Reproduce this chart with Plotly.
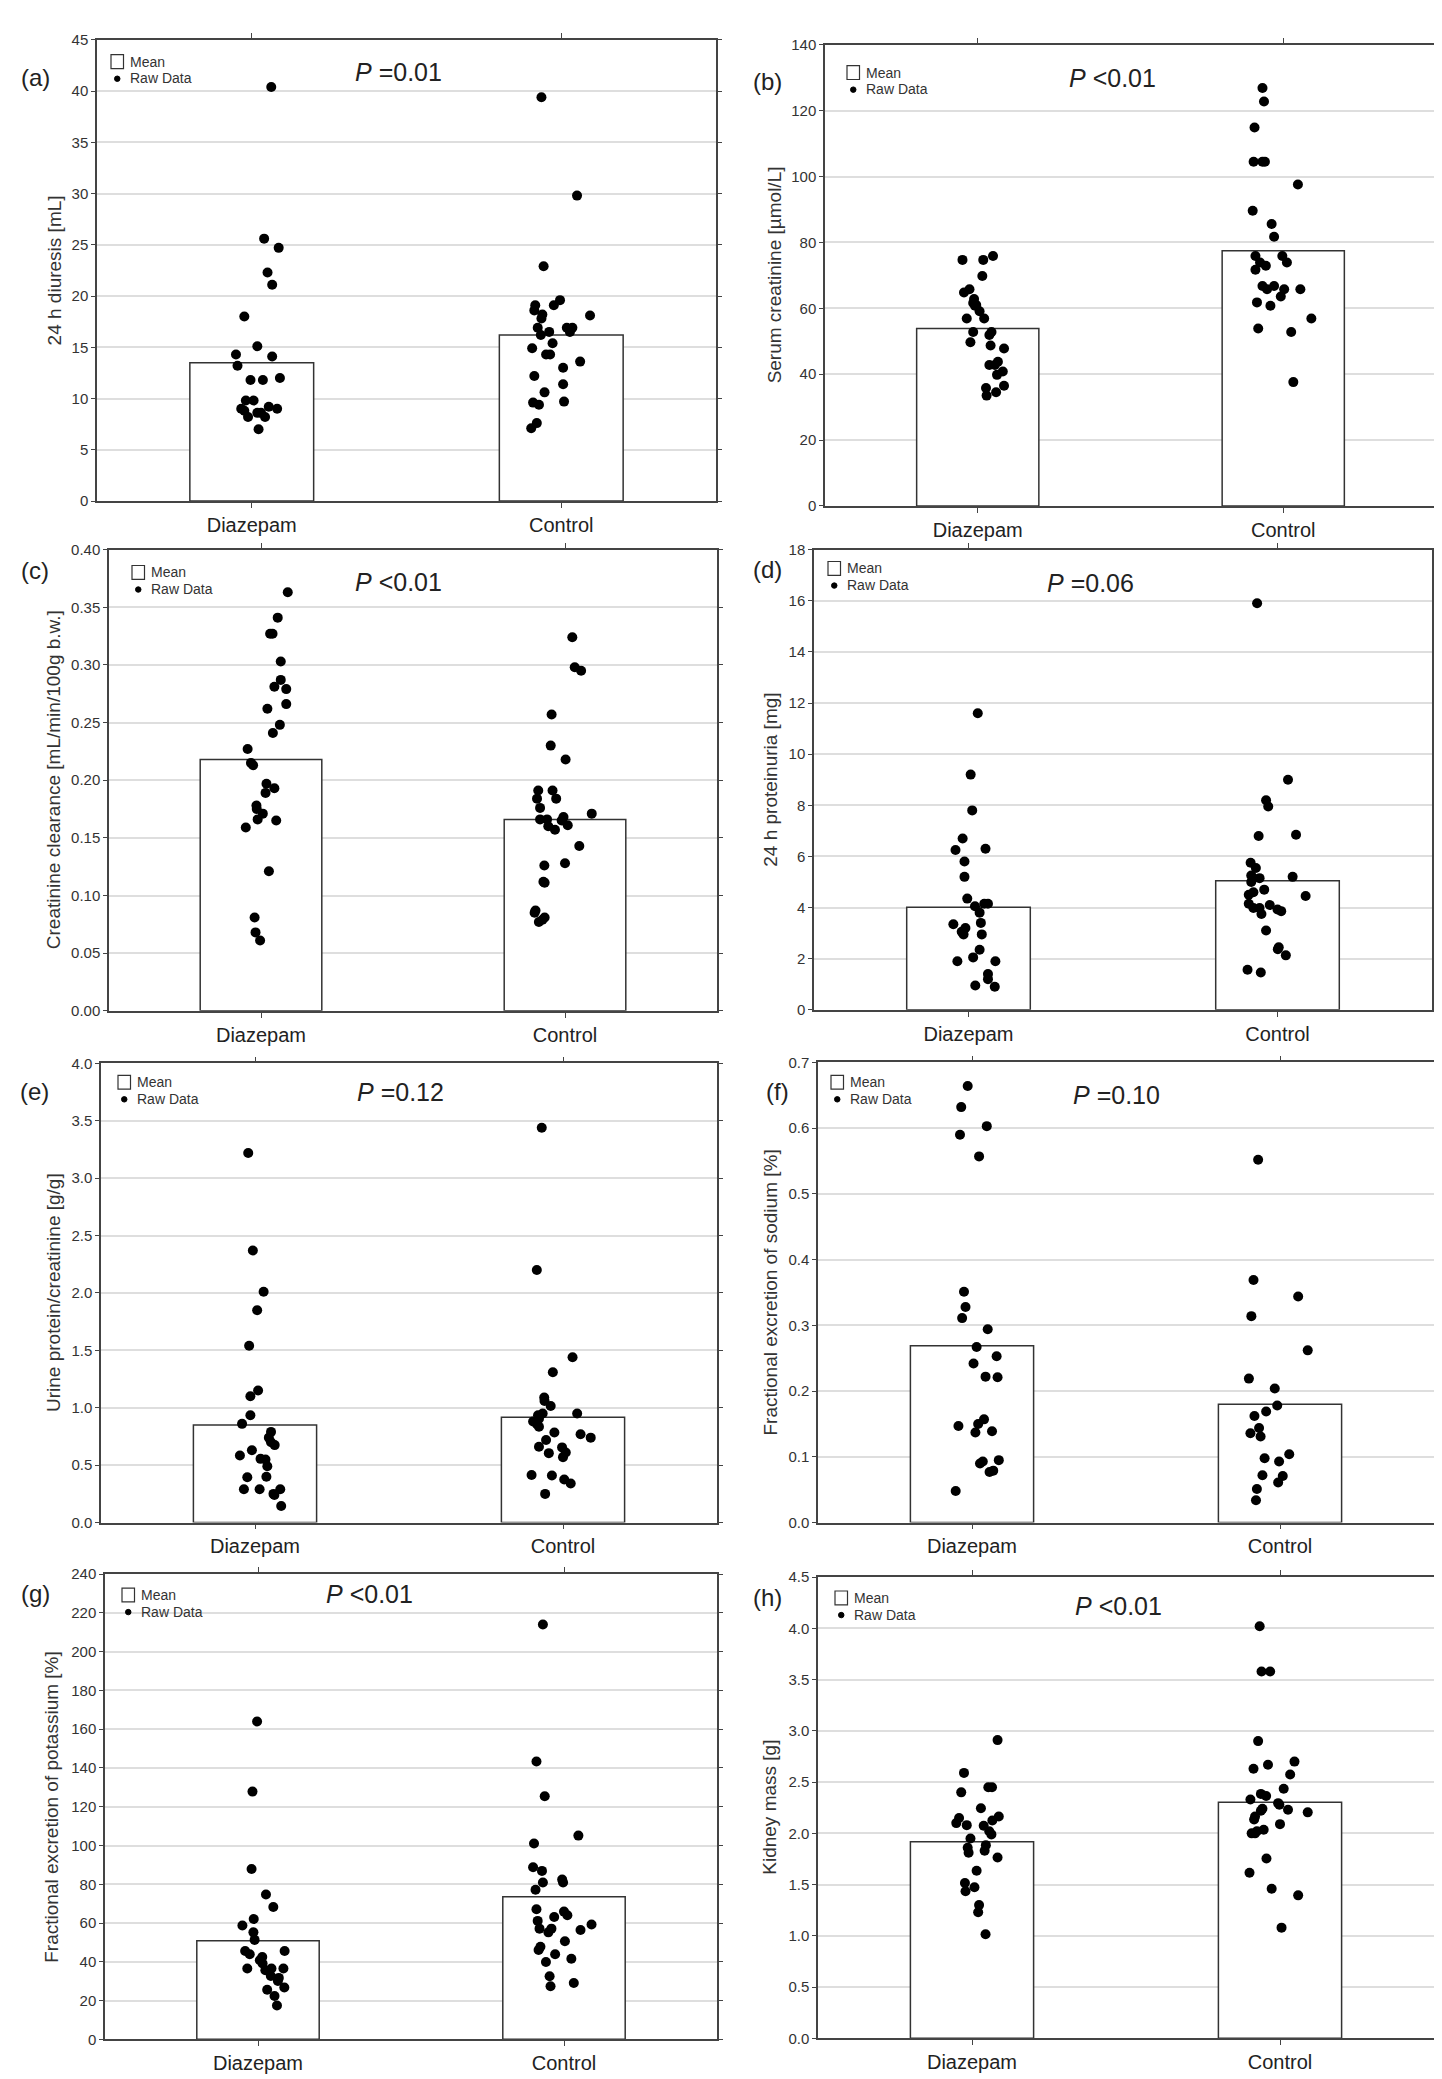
import plotly.graph_objects as go

W, H = 1442, 2079
CATEGORIES = ["Diazepam", "Control"]

# (a) 24 h diuresis
a_means = [13.5, 16.2]
a_diaz = [40.4, 25.6, 24.7, 22.3, 21.1, 18.0, 15.1, 14.3, 14.1, 13.2, 12.0, 11.8, 11.8, 9.8, 9.8,
          9.2, 9.0, 9.0, 8.8, 8.6, 8.6, 8.2, 8.2, 7.0]
a_diaz_jit = [0.063, 0.040, 0.087, 0.051, 0.066, -0.024, 0.018, -0.051, 0.066, -0.046, 0.091, -0.004,
              0.036, -0.019, 0.006, 0.055, -0.034, 0.082, -0.024, 0.018, 0.030, -0.012, 0.043, 0.022]
a_ctrl = [39.4, 29.8, 22.9, 19.6, 19.1, 19.1, 18.6, 18.2, 18.1, 17.8, 16.9, 16.9, 16.9, 16.5, 16.5,
          16.2, 15.4, 14.9, 14.3, 14.3, 13.6, 13.0, 12.2, 11.4, 10.6, 9.7, 9.6, 9.4, 7.6, 7.1]
a_ctrl_jit = [-0.064, 0.051, -0.057, -0.004, -0.084, -0.024, -0.087, -0.061, 0.093, -0.064, -0.076,
              0.018, 0.036, -0.039, 0.028, -0.066, -0.028, -0.094, -0.049, -0.036, 0.061, 0.006,
              -0.087, 0.006, -0.054, 0.009, -0.091, -0.072, -0.079, -0.097]

# (b) serum creatinine
b_means = [53.9, 77.5]
b_diaz = [75.9, 74.7, 74.7, 69.8, 65.8, 64.8, 62.8, 61.6, 61.0, 60.8, 59.1, 56.9, 56.9, 52.8, 52.8,
          51.9, 49.7, 48.7, 47.8, 43.8, 42.8, 42.8, 40.8, 39.8, 36.5, 35.8, 34.5, 33.5]
b_diaz_jit = [0.050, -0.050, 0.018, 0.015, -0.027, -0.045, -0.012, -0.015, -0.005, -0.009, 0.006,
              -0.036, 0.021, -0.015, 0.045, 0.038, -0.024, 0.042, 0.086, 0.066, 0.038, 0.056, 0.082,
              0.063, 0.086, 0.027, 0.060, 0.029]
b_ctrl = [126.9, 122.8, 114.9, 104.5, 104.5, 104.5, 97.6, 89.6, 85.6, 81.7, 75.9, 75.9, 73.9, 73.9,
          72.9, 71.7, 66.8, 66.8, 65.8, 65.8, 65.8, 63.6, 61.8, 60.8, 56.9, 53.9, 52.8, 37.6]
b_ctrl_jit = [-0.068, -0.063, -0.094, -0.097, -0.068, -0.060, 0.048, -0.100, -0.038, -0.030, -0.091,
              -0.003, -0.076, 0.012, -0.057, -0.091, -0.068, -0.030, -0.053, 0.003, 0.056, -0.008,
              -0.086, -0.042, 0.092, -0.082, 0.026, 0.033]

# (c) creatinine clearance
c_means = [0.218, 0.166]
c_diaz = [0.363, 0.341, 0.327, 0.327, 0.303, 0.287, 0.281, 0.279, 0.266, 0.262, 0.248, 0.241, 0.227,
          0.215, 0.213, 0.197, 0.193, 0.189, 0.178, 0.175, 0.171, 0.166, 0.165, 0.159, 0.121, 0.081,
          0.068, 0.061]
c_diaz_jit = [0.088, 0.055, 0.030, 0.038, 0.065, 0.065, 0.044, 0.083, 0.083, 0.021, 0.062, 0.039,
              -0.044, -0.033, -0.026, 0.018, 0.044, 0.015, -0.015, -0.014, 0.006, -0.011, 0.050,
              -0.050, 0.026, -0.021, -0.018, -0.003]
c_ctrl = [0.324, 0.298, 0.295, 0.257, 0.230, 0.218, 0.191, 0.191, 0.184, 0.184, 0.176, 0.171, 0.168,
          0.166, 0.166, 0.165, 0.161, 0.160, 0.157, 0.143, 0.128, 0.126, 0.112, 0.111, 0.087, 0.085,
          0.081, 0.079, 0.077]
c_ctrl_jit = [0.024, 0.032, 0.053, -0.044, -0.047, 0.002, -0.088, -0.041, -0.092, -0.029, -0.082,
              0.088, -0.005, -0.082, -0.059, -0.011, 0.009, -0.055, -0.033, 0.047, 0.000, -0.068,
              -0.071, -0.067, -0.097, -0.100, -0.067, -0.074, -0.086]

# (d) 24 h proteinuria
d_means = [4.01, 5.05]
d_diaz = [11.6, 9.2, 7.8, 6.7, 6.3, 6.25, 5.8, 5.2, 4.35, 4.15, 4.15, 4.05, 3.8, 3.4, 3.35, 3.2, 3.05,
          2.95, 2.95, 2.35, 2.05, 1.9, 1.9, 1.4, 1.2, 0.95, 0.9]
d_diaz_jit = [0.030, 0.007, 0.012, -0.019, 0.055, -0.042, -0.013, -0.013, -0.004, 0.051, 0.063, 0.021,
              0.036, 0.040, -0.049, -0.010, -0.022, -0.016, 0.043, 0.036, 0.015, -0.036, 0.087, 0.063,
              0.063, 0.022, 0.085]
d_ctrl = [15.9, 9.0, 8.2, 7.95, 6.85, 6.8, 5.75, 5.55, 5.25, 5.2, 5.15, 5.15, 5.0, 4.7, 4.6, 4.5, 4.45,
          4.15, 4.1, 3.98, 3.98, 3.92, 3.86, 3.75, 3.1, 2.45, 2.37, 2.13, 1.57, 1.46]
d_ctrl_jit = [-0.066, 0.034, -0.037, -0.030, 0.060, -0.061, -0.087, -0.070, -0.085, 0.049, -0.058,
              -0.078, -0.085, -0.043, -0.078, -0.093, 0.091, -0.093, -0.025, -0.078, -0.058, 0.000,
              0.012, -0.052, -0.037, 0.004, 0.001, 0.027, -0.097, -0.054]

# (e) urine protein/creatinine
e_means = [0.849, 0.918]
e_diaz = [3.22, 2.37, 2.01, 1.85, 1.54, 1.15, 1.10, 0.935, 0.86, 0.79, 0.74, 0.70, 0.675, 0.63, 0.585,
          0.555, 0.55, 0.49, 0.40, 0.395, 0.29, 0.29, 0.29, 0.25, 0.24, 0.145]
e_diaz_jit = [-0.022, -0.007, 0.028, 0.007, -0.019, 0.010, -0.015, -0.015, -0.042, 0.052, 0.045, 0.052,
              0.064, -0.010, -0.049, 0.018, 0.034, 0.040, 0.037, -0.025, -0.036, 0.015, 0.082, 0.060,
              0.063, 0.085]
e_ctrl = [3.44, 2.20, 1.44, 1.31, 1.09, 1.06, 1.015, 0.95, 0.95, 0.935, 0.905, 0.88, 0.86, 0.835, 0.785,
          0.77, 0.74, 0.72, 0.66, 0.655, 0.61, 0.605, 0.57, 0.415, 0.41, 0.375, 0.34, 0.25]
e_ctrl_jit = [-0.069, -0.085, 0.031, -0.033, -0.061, -0.060, -0.040, 0.046, -0.066, -0.081, -0.078,
              -0.097, -0.085, -0.078, -0.028, 0.057, 0.090, -0.055, -0.078, -0.003, 0.009, -0.046,
              0.000, -0.102, -0.036, 0.004, 0.025, -0.058]

# (f) fractional excretion of sodium
f_means = [0.269, 0.180]
f_diaz = [0.664, 0.632, 0.603, 0.590, 0.557, 0.351, 0.328, 0.311, 0.294, 0.267, 0.253, 0.242, 0.222,
          0.221, 0.157, 0.150, 0.147, 0.139, 0.137, 0.095, 0.093, 0.090, 0.079, 0.077, 0.048]
f_diaz_jit = [-0.014, -0.035, 0.048, -0.039, 0.023, -0.026, -0.021, -0.032, 0.051, 0.015, 0.080, 0.005,
              0.044, 0.083, 0.039, 0.020, -0.044, 0.065, 0.011, 0.087, 0.035, 0.026, 0.069, 0.057,
              -0.053]
f_ctrl = [0.552, 0.369, 0.344, 0.314, 0.262, 0.219, 0.204, 0.178, 0.169, 0.162, 0.144, 0.136, 0.131,
          0.104, 0.098, 0.093, 0.072, 0.071, 0.061, 0.051, 0.034]
f_ctrl_jit = [-0.071, -0.086, 0.059, -0.093, 0.090, -0.101, -0.017, -0.009, -0.045, -0.083, -0.068,
              -0.096, -0.063, 0.030, -0.050, -0.003, -0.057, 0.009, -0.006, -0.075, -0.078]

# (g) fractional excretion of potassium
g_means = [50.8, 73.5]
g_diaz = [164, 127.8, 87.9, 74.7, 68.3, 62.1, 58.7, 55.2, 51.3, 45.6, 45.6, 43.9, 42.5, 40.8, 39.1,
          36.5, 36.5, 36.5, 35.6, 32.7, 31.7, 30.1, 26.7, 25.6, 22.4, 17.5]
g_diaz_jit = [-0.003, -0.018, -0.021, 0.026, 0.050, -0.014, -0.051, -0.015, -0.011, 0.087, -0.042,
              -0.027, 0.014, 0.006, 0.015, 0.044, -0.035, 0.083, 0.024, 0.042, 0.068, 0.065, 0.086,
              0.030, 0.054, 0.062]
g_ctrl = [214, 143.3, 125.4, 105.1, 101, 88.8, 86.9, 82.4, 80.9, 80.9, 77.2, 67.1, 65.9, 64, 63.1,
          61.1, 59.2, 57.1, 57.1, 56.4, 55.2, 50.6, 47.8, 46.1, 43.9, 41.6, 39.9, 32.5, 29.1, 27.4]
g_ctrl_jit = [-0.069, -0.090, -0.063, 0.047, -0.098, -0.101, -0.072, -0.006, -0.069, -0.003, -0.093,
              -0.090, 0.000, 0.011, -0.032, -0.086, 0.090, -0.041, -0.080, 0.054, -0.051, 0.003,
              -0.077, -0.083, -0.029, 0.024, -0.059, -0.047, 0.032, -0.044]

# (h) kidney mass
h_means = [1.917, 2.304]
h_diaz = [2.91, 2.59, 2.45, 2.45, 2.40, 2.245, 2.165, 2.15, 2.125, 2.10, 2.08, 2.075, 2.02, 1.99, 1.95,
          1.885, 1.86, 1.83, 1.81, 1.765, 1.635, 1.515, 1.475, 1.435, 1.30, 1.23, 1.015]
h_diaz_jit = [0.083, -0.026, 0.053, 0.065, -0.035, 0.029, 0.087, -0.042, 0.066, -0.051, -0.017, 0.038,
              0.056, 0.063, -0.005, 0.045, -0.014, 0.041, -0.011, 0.083, 0.015, -0.023, 0.008, -0.021,
              0.023, 0.020, 0.044]
h_ctrl = [4.02, 3.58, 3.58, 2.90, 2.70, 2.67, 2.63, 2.575, 2.435, 2.385, 2.365, 2.33, 2.295, 2.28, 2.24,
          2.23, 2.22, 2.205, 2.165, 2.135, 2.09, 2.035, 2.02, 2.00, 2.00, 1.755, 1.615, 1.46, 1.395,
          1.08]
h_ctrl_jit = [-0.066, -0.060, -0.032, -0.071, 0.047, -0.039, -0.086, 0.033, 0.012, -0.062, -0.045,
              -0.096, -0.006, -0.002, -0.057, 0.026, -0.062, 0.090, -0.081, -0.084, 0.000, -0.053,
              -0.075, -0.092, -0.081, -0.044, -0.099, -0.027, 0.059, 0.005]

# panel text + axis scale; box = plot area in page pixels (x0, x1, y0, y1)
panels = [
    dict(tag="(a)", p="=0.01", title="24 h diuresis [mL]", ymax=45, dtick=5, fmt="",
         means=a_means, diaz=a_diaz, dj=a_diaz_jit, ctrl=a_ctrl, cj=a_ctrl_jit,
         box=(89, 708, 23, 488), tagxy=(28, 61), pxy=(390, 55), titlex=46, leg=(103, 38)),
    dict(tag="(b)", p="<0.01", title="Serum creatinine [µmol/L]", ymax=140, dtick=20, fmt="",
         means=b_means, diaz=b_diaz, dj=b_diaz_jit, ctrl=b_ctrl, cj=b_ctrl_jit,
         box=(817, 1428, 28, 493), tagxy=(759, 65), pxy=(1104, 62), titlex=766, leg=(839, 49)),
    dict(tag="(c)", p="<0.01", title="Creatinine clearance [mL/min/100g b.w.]", ymax=0.40,
         dtick=0.05, fmt=".2f",
         means=c_means, diaz=c_diaz, dj=c_diaz_jit, ctrl=c_ctrl, cj=c_ctrl_jit,
         box=(101, 709, 537, 1002), tagxy=(27, 558), pxy=(390, 570), titlex=45, leg=(124, 553)),
    dict(tag="(d)", p="=0.06", title="24 h proteinuria [mg]", ymax=18, dtick=2, fmt="",
         means=d_means, diaz=d_diaz, dj=d_diaz_jit, ctrl=d_ctrl, cj=d_ctrl_jit,
         box=(806, 1424, 537, 1001), tagxy=(759, 557), pxy=(1082, 571), titlex=763, leg=(820, 549)),
    dict(tag="(e)", p="=0.12", title="Urine protein/creatinine [g/g]", ymax=4.0, dtick=0.5,
         fmt=".1f",
         means=e_means, diaz=e_diaz, dj=e_diaz_jit, ctrl=e_ctrl, cj=e_ctrl_jit,
         box=(93, 709, 1055, 1518), tagxy=(27, 1083), pxy=(392, 1084), titlex=46, leg=(110, 1067)),
    dict(tag="(f)", p="=0.10", title="Fractional excretion of sodium [%]", ymax=0.7, dtick=0.1,
         fmt=".1f",
         means=f_means, diaz=f_diaz, dj=f_diaz_jit, ctrl=f_ctrl, cj=f_ctrl_jit,
         box=(810, 1426, 1054, 1518), tagxy=(769, 1083), pxy=(1108, 1087), titlex=762,
         leg=(823, 1067)),
    dict(tag="(g)", p="<0.01", title="Fractional excretion of potassium [%]", ymax=240, dtick=20,
         fmt="",
         means=g_means, diaz=g_diaz, dj=g_diaz_jit, ctrl=g_ctrl, cj=g_ctrl_jit,
         box=(97, 709, 1570, 2039), tagxy=(28, 1590), pxy=(361, 1590), titlex=44, leg=(114, 1584)),
    dict(tag="(h)", p="<0.01", title="Kidney mass [g]", ymax=4.5, dtick=0.5, fmt=".1f",
         means=h_means, diaz=h_diaz, dj=h_diaz_jit, ctrl=h_ctrl, cj=h_ctrl_jit,
         box=(810, 1426, 1573, 2038), tagxy=(759, 1594), pxy=(1110, 1602), titlex=762,
         leg=(827, 1587)),
]

REG = "Liberation Sans, Arial, sans-serif"
AXIS = "#444444"
TEXT = "#222222"


def px(x):
    return x / W


def py(y):
    return 1 - y / H


fig = go.Figure()
layout = dict(width=W, height=H, margin=dict(l=0, r=0, t=0, b=0), paper_bgcolor="white",
              plot_bgcolor="white", showlegend=False, annotations=[], shapes=[])

for i, pn in enumerate(panels, start=1):
    xa = "x" if i == 1 else f"x{i}"
    ya = "y" if i == 1 else f"y{i}"
    x0, x1, y0, y1 = pn["box"]

    fig.add_trace(go.Bar(x=[0, 1], y=pn["means"], width=0.4, xaxis=xa, yaxis=ya,
                         marker=dict(color="white", line=dict(color="#333333", width=1.5))))
    fig.add_trace(go.Scatter(x=[0 + j for j in pn["dj"]] + [1 + j for j in pn["cj"]],
                             y=pn["diaz"] + pn["ctrl"], mode="markers", xaxis=xa, yaxis=ya,
                             marker=dict(color="black", size=10)))

    xkey = "xaxis" if i == 1 else f"xaxis{i}"
    ykey = "yaxis" if i == 1 else f"yaxis{i}"
    layout[xkey] = dict(domain=[px(x0), px(x1)], anchor=ya, range=[-0.5, 1.5],
                        tickvals=[0, 1], ticktext=CATEGORIES, showgrid=False, zeroline=False,
                        showline=True, linecolor=AXIS, linewidth=1.5, mirror="ticks",
                        ticks="outside", ticklen=5, tickcolor=AXIS,
                        tickfont=dict(family=REG, size=20, color=TEXT), fixedrange=True)
    layout[ykey] = dict(domain=[py(y1), py(y0)], anchor=xa, range=[0, pn["ymax"]],
                        dtick=pn["dtick"], tick0=0, tickformat=pn["fmt"], showgrid=True,
                        gridcolor="#dedede", gridwidth=1.5, zeroline=False, showline=True,
                        linecolor=AXIS, linewidth=1.5, mirror="ticks", ticks="outside",
                        ticklen=4, tickcolor=AXIS,
                        tickfont=dict(family=REG, size=15, color="#333333"), fixedrange=True)

    ann = layout["annotations"]
    ann.append(dict(text=pn["tag"], x=px(pn["tagxy"][0]), y=py(pn["tagxy"][1]), xref="paper",
                    yref="paper", showarrow=False, xanchor="center", yanchor="middle",
                    font=dict(family=REG, size=24, color=TEXT)))
    ann.append(dict(text="<i>P</i> " + pn["p"], x=px(pn["pxy"][0]), y=py(pn["pxy"][1]),
                    xref="paper", yref="paper", showarrow=False, xanchor="center",
                    yanchor="middle", font=dict(family=REG, size=25, color=TEXT)))
    ann.append(dict(text=pn["title"], x=px(pn["titlex"]), y=py((y0 + y1) / 2), xref="paper",
                    yref="paper", showarrow=False, textangle=-90, xanchor="center",
                    yanchor="middle", font=dict(family=REG, size=19, color="#333333")))

    # small legend: open box = Mean, dot = Raw Data
    lx, ly = pn["leg"]
    layout["shapes"].append(dict(type="rect", xref="paper", yref="paper", x0=px(lx),
                                 x1=px(lx + 12.5), y0=py(ly + 14), y1=py(ly),
                                 line=dict(color="#333333", width=1.2), fillcolor="white"))
    layout["shapes"].append(dict(type="circle", xref="paper", yref="paper", x0=px(lx + 3.5),
                                 x1=px(lx + 9), y0=py(ly + 27), y1=py(ly + 21.5),
                                 line=dict(color="black", width=1), fillcolor="black"))
    ann.append(dict(text="Mean", x=px(lx + 17), y=py(ly + 7), xref="paper", yref="paper",
                    showarrow=False, xanchor="left", yanchor="middle",
                    font=dict(family=REG, size=14, color="#333333")))
    ann.append(dict(text="Raw Data", x=px(lx + 17), y=py(ly + 24), xref="paper", yref="paper",
                    showarrow=False, xanchor="left", yanchor="middle",
                    font=dict(family=REG, size=14, color="#333333")))

fig.update_layout(**layout)
fig.write_html("out.html")
